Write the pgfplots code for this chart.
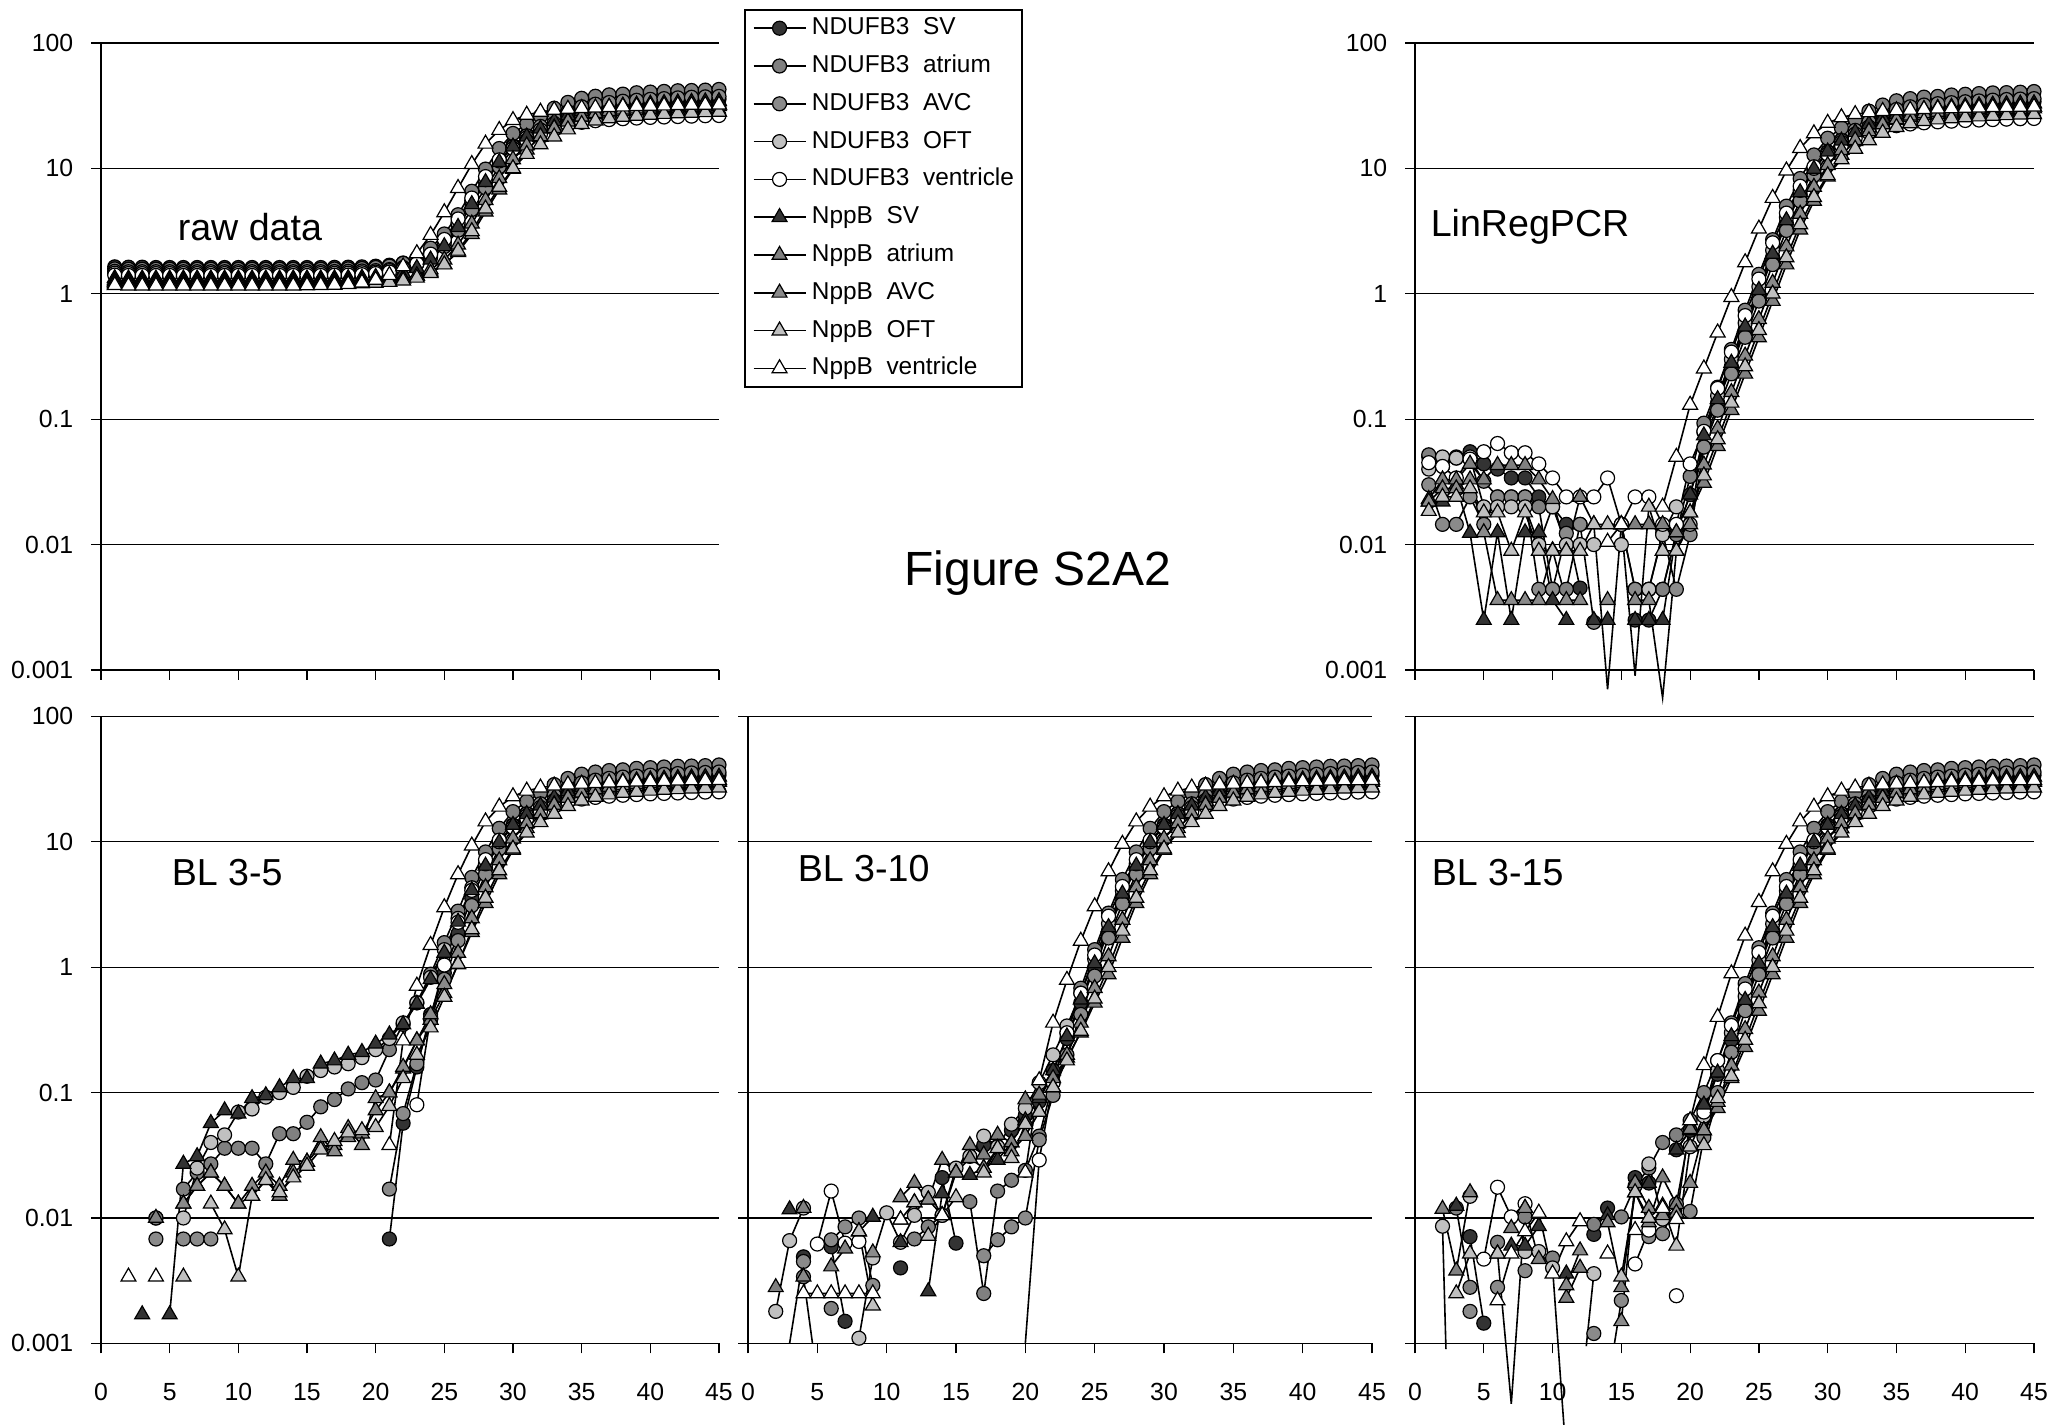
\documentclass[border=0pt]{standalone}
\usepackage{pgfplots}
\usepackage{pgfplotstable}
\pgfplotsset{compat=1.18}
\usepackage{fontspec}
\setmainfont{Liberation Sans}
\newcommand{\tickfont}{\fontsize{6.2}{7}\selectfont}
\newcommand{\labfont}{\fontsize{9.4}{11}\selectfont}
\newcommand{\legfont}{\fontsize{6.1}{7}\selectfont}
\definecolor{cDark}{HTML}{333333}
\definecolor{cMid}{HTML}{808080}
\definecolor{cMidB}{HTML}{8A8A8A}
\definecolor{cLight}{HTML}{C0C0C0}

\pgfplotstableread{
c s1 s2 s3 s4 s5 s6 s7 s8 s9 s10
1 1.64 1.58 1.51 1.46 1.41 1.33 1.28 1.25 1.21 1.17
2 1.63 1.57 1.50 1.45 1.40 1.32 1.27 1.24 1.20 1.16
3 1.63 1.57 1.50 1.45 1.40 1.32 1.27 1.24 1.20 1.16
4 1.62 1.57 1.50 1.45 1.40 1.32 1.27 1.24 1.20 1.16
5 1.62 1.57 1.50 1.45 1.40 1.32 1.27 1.24 1.20 1.16
6 1.62 1.57 1.50 1.45 1.40 1.32 1.27 1.24 1.20 1.16
7 1.62 1.57 1.50 1.45 1.40 1.32 1.27 1.24 1.20 1.16
8 1.62 1.57 1.50 1.45 1.40 1.32 1.27 1.24 1.20 1.16
9 1.62 1.57 1.50 1.45 1.40 1.32 1.27 1.24 1.20 1.16
10 1.62 1.57 1.50 1.45 1.40 1.32 1.27 1.24 1.20 1.16
11 1.62 1.57 1.50 1.45 1.40 1.32 1.27 1.24 1.20 1.16
12 1.62 1.57 1.50 1.45 1.40 1.32 1.27 1.24 1.20 1.16
13 1.62 1.57 1.50 1.45 1.40 1.32 1.27 1.24 1.20 1.16
14 1.62 1.57 1.50 1.45 1.40 1.32 1.27 1.24 1.20 1.16
15 1.62 1.57 1.50 1.45 1.40 1.32 1.27 1.24 1.20 1.165
16 1.62 1.57 1.50 1.45 1.40 1.32 1.27 1.24 1.20 1.17
17 1.625 1.576 1.504 1.455 1.406 1.325 1.272 1.243 1.202 1.178
18 1.63 1.58 1.51 1.46 1.41 1.33 1.274 1.246 1.205 1.194
19 1.64 1.59 1.52 1.47 1.42 1.34 1.278 1.251 1.209 1.227
20 1.66 1.62 1.53 1.49 1.45 1.36 1.286 1.262 1.218 1.29
21 1.69 1.66 1.56 1.53 1.49 1.39 1.30 1.28 1.24 1.41
22 1.76 1.75 1.62 1.60 1.58 1.46 1.33 1.32 1.27 1.65
23 1.88 1.93 1.73 1.75 1.74 1.60 1.39 1.40 1.34 2.10
24 2.13 2.31 1.95 2.04 2.07 1.87 1.50 1.56 1.46 2.94
25 2.62 3.00 2.38 2.59 2.71 2.39 1.72 1.87 1.71 4.46
26 3.57 4.27 3.21 3.67 3.95 3.40 2.15 2.46 2.20 6.96
27 5.27 6.57 4.70 5.52 5.80 5.17 2.98 3.62 3.15 10.8
28 7.8 9.87 7.0 8.12 8.6 7.75 4.51 5.57 4.77 15.7
29 11.3 14.4 10.3 11.45 11.7 11.2 6.77 8.34 7.1 20.2
30 15.2 19.0 14.4 14.85 14.4 14.9 9.87 11.8 10.0 24.2
31 18.5 22.6 18.2 17.55 16.7 17.9 14.1 15.2 13.0 26.7
32 21.5 26.1 21.6 20.25 18.8 20.7 17.8 18.0 15.5 28.2
33 24.7 30.2 25.0 22.85 20.7 23.8 21.1 20.9 17.9 29.2
34 27.5 33.6 28.3 25.25 22.2 26.5 23.8 23.6 20.4 29.8
35 29.8 36.2 31.0 26.95 23.3 28.5 25.6 25.8 22.5 30.2
36 31.2 37.6 32.5 27.95 24.0 29.9 26.9 27.5 24.0 30.5
37 32.1 38.6 33.5 28.65 24.5 30.9 27.8 28.6 25.0 30.8
38 32.8 39.1 34.3 29.15 24.9 31.6 28.5 29.4 25.7 31.1
39 33.4 40.1 34.9 29.55 25.2 32.2 29.1 30.0 26.2 31.3
40 33.9 40.6 35.5 29.95 25.5 32.7 29.6 30.5 26.7 31.5
41 34.3 41.1 36.0 30.25 25.7 33.1 30.1 30.9 27.1 31.7
42 34.7 41.6 36.5 30.55 25.9 33.5 30.5 31.3 27.4 31.9
43 35.0 41.8 36.9 30.85 26.1 33.8 30.8 31.6 27.7 32.0
44 35.3 42.1 37.2 31.15 26.3 34.1 31.1 31.9 28.0 32.1
45 35.6 42.6 37.5 31.45 26.4 34.3 31.3 32.2 28.2 32.2
}\rawtab

\pgfplotstableread{
c s1 s2 s3 s4 s5 s6 s7 s8 s9 s10
1 0.050 0.052 0.030 0.040 0.045 0.022 0.023 0.022 0.0185 nan
2 0.048 0.042 0.0145 0.050 0.042 0.022 0.033 0.028 0.024 nan
3 0.050 0.049 0.0145 0.049 0.034 0.030 0.033 0.028 0.024 nan
4 0.055 0.048 0.024 0.050 0.048 0.0124 0.044 0.033 0.028 nan
5 0.044 0.032 0.0145 0.020 0.055 0.0025 0.033 0.0125 0.018 nan
6 0.040 0.024 0.024 0.020 0.064 0.0125 0.043 0.0036 0.018 nan
7 0.034 0.024 0.024 0.020 0.054 0.0025 0.043 0.0036 0.0089 nan
8 0.034 0.024 0.024 0.020 0.054 0.0125 0.043 0.0036 0.018 nan
9 0.024 0.020 0.0044 0.010 0.044 0.0125 0.033 0.0036 0.0089 nan
10 0.020 0.0044 0.0044 0.020 0.034 0.0036 0.023 0.009 0.0089 nan
11 0.0145 0.0044 0.0123 0.010 0.024 0.0025 0.0089 0.0036 0.0089 nan
12 0.0045 0.0145 0.0145 0.010 0.024 nan 0.024 0.0036 0.0089 nan
13 nan 0.0024 nan 0.010 0.024 0.0025 0.0145 nan 0.0145 nan
14 nan nan nan nan 0.034 0.0025 nan 0.0036 0.0145 0.0105
15 nan 0.0145 0.0145 0.010 0.0145 nan 0.0145 nan 0.0145 0.0145
16 0.0025 0.0044 0.0044 nan 0.024 0.0025 0.0145 0.0036 nan nan
17 0.0025 0.0044 0.0044 0.0044 0.024 0.0025 0.0145 0.0036 0.020 nan
18 0.0044 0.0044 0.0123 0.012 0.0145 0.0025 0.0145 nan 0.0089 0.020
19 0.0125 0.012 0.0044 0.020 0.0145 0.0125 0.0125 0.0089 0.0089 0.050
20 0.025 0.035 0.012 0.0145 0.044 0.025 0.018 0.0145 0.018 0.13
21 0.060 0.093 0.060 0.079 0.080 0.074 0.031 0.0433 0.0355 0.253
22 0.135 0.18 0.118 0.154 0.176 0.144 0.061 0.084 0.069 0.49
23 0.263 0.36 0.23 0.30 0.343 0.281 0.118 0.164 0.135 0.94
24 0.513 0.74 0.45 0.585 0.67 0.547 0.23 0.32 0.263 1.78
25 1.0 1.43 0.875 1.14 1.31 1.07 0.448 0.626 0.513 3.3
26 1.95 2.7 1.71 2.22 2.55 2.08 0.875 1.22 1.0 5.8
27 3.65 5.0 3.2 4.07 4.4 3.85 1.71 2.38 1.95 9.6
28 6.2 8.3 5.5 6.67 7.2 6.43 3.24 4.33 3.57 14.5
29 9.7 12.8 8.8 10.0 10.3 9.9 5.5 7.1 5.9 19.0
30 13.6 17.4 12.9 13.4 13.0 13.6 8.6 10.6 8.8 23.0
31 16.9 21.0 16.7 16.1 15.3 16.6 12.8 14.0 11.8 25.5
32 19.9 24.5 20.1 18.8 17.4 19.4 16.5 16.8 14.3 27.0
33 23.1 28.6 23.5 21.4 19.3 22.5 19.8 19.7 16.7 28.0
34 25.9 32.0 26.8 23.8 20.8 25.2 22.5 22.4 19.2 28.6
35 28.2 34.6 29.5 25.5 21.9 27.2 24.3 24.6 21.3 29.0
36 29.6 36.0 31.0 26.5 22.6 28.6 25.6 26.3 22.8 29.3
37 30.5 37.0 32.0 27.2 23.1 29.6 26.5 27.4 23.8 29.6
38 31.2 37.5 32.8 27.7 23.5 30.3 27.2 28.2 24.5 29.9
39 31.8 38.5 33.4 28.1 23.8 30.9 27.8 28.8 25.0 30.1
40 32.3 39.0 34.0 28.5 24.1 31.4 28.3 29.3 25.5 30.3
41 32.7 39.5 34.5 28.8 24.3 31.8 28.8 29.7 25.9 30.5
42 33.1 40.0 35.0 29.1 24.5 32.2 29.2 30.1 26.2 30.7
43 33.4 40.2 35.4 29.4 24.7 32.5 29.5 30.4 26.5 30.8
44 33.7 40.5 35.7 29.7 24.9 32.8 29.8 30.7 26.8 30.9
45 34.0 41.0 36.0 30.0 25.0 33.0 30.0 31.0 27.0 31.0
}\lintab

\pgfplotstableread{
c s1 s2 s3 s4 s5 s6 s7 s8 s9 s10
1 nan nan nan nan nan nan nan nan nan nan
2 nan nan nan nan nan nan nan nan nan 0.0034
3 nan nan nan nan nan 0.0017 nan nan nan nan
4 0.010 0.010 0.0068 nan nan nan 0.010 nan nan 0.0034
5 nan nan nan nan nan 0.0017 nan nan nan nan
6 nan 0.017 0.0068 0.010 nan 0.027 0.013 0.013 0.0034 nan
7 nan 0.023 0.0068 0.025 nan 0.031 0.018 0.018 nan nan
8 nan 0.027 0.0068 0.040 nan 0.057 0.023 0.023 0.013 nan
9 nan 0.036 nan 0.046 nan 0.072 0.018 0.018 0.0081 nan
10 nan 0.036 nan 0.070 nan 0.068 0.013 0.013 0.0034 nan
11 nan 0.036 nan 0.074 nan 0.090 0.015 0.018 0.015 nan
12 nan 0.027 nan 0.092 nan 0.095 0.020 0.023 0.020 nan
13 nan 0.047 nan 0.100 nan 0.110 0.015 0.018 0.016 nan
14 nan 0.047 nan 0.110 nan 0.130 0.023 0.029 0.021 nan
15 nan 0.058 nan 0.135 nan 0.130 0.028 0.028 0.026 nan
16 nan 0.077 nan 0.150 nan 0.170 0.037 0.044 0.035 nan
17 nan 0.088 nan 0.160 nan 0.180 0.038 0.034 0.041 nan
18 nan 0.107 nan 0.170 nan 0.200 0.044 0.052 0.048 nan
19 nan 0.120 nan 0.190 nan 0.210 0.047 0.038 0.050 nan
20 nan 0.126 nan 0.220 nan 0.245 0.072 0.090 0.053 nan
21 0.0068 0.22 0.017 0.27 nan 0.29 0.10 0.10 0.078 0.038
22 0.057 0.35 0.068 0.36 nan 0.35 0.155 0.16 0.13 0.26
23 0.16 0.52 0.17 0.52 0.08 0.51 0.26 0.26 0.20 0.71
24 0.42 0.88 0.38 0.83 0.40 0.80 0.38 0.42 0.33 1.5
25 0.90 1.57 0.80 1.38 1.04 1.30 0.62 0.73 0.58 3.0
26 1.85 2.8 1.63 2.45 2.28 2.30 1.05 1.30 1.06 5.5
27 3.55 5.2 3.1 4.3 4.1 4.1 1.9 2.45 2.0 9.3
28 6.2 8.3 5.5 6.67 7.2 6.43 3.24 4.33 3.57 14.5
29 9.7 12.8 8.8 10.0 10.3 9.9 5.5 7.1 5.9 19.0
30 13.6 17.4 12.9 13.4 13.0 13.6 8.6 10.6 8.8 23.0
31 16.9 21.0 16.7 16.1 15.3 16.6 12.8 14.0 11.8 25.5
32 19.9 24.5 20.1 18.8 17.4 19.4 16.5 16.8 14.3 27.0
33 23.1 28.6 23.5 21.4 19.3 22.5 19.8 19.7 16.7 28.0
34 25.9 32.0 26.8 23.8 20.8 25.2 22.5 22.4 19.2 28.6
35 28.2 34.6 29.5 25.5 21.9 27.2 24.3 24.6 21.3 29.0
36 29.6 36.0 31.0 26.5 22.6 28.6 25.6 26.3 22.8 29.3
37 30.5 37.0 32.0 27.2 23.1 29.6 26.5 27.4 23.8 29.6
38 31.2 37.5 32.8 27.7 23.5 30.3 27.2 28.2 24.5 29.9
39 31.8 38.5 33.4 28.1 23.8 30.9 27.8 28.8 25.0 30.1
40 32.3 39.0 34.0 28.5 24.1 31.4 28.3 29.3 25.5 30.3
41 32.7 39.5 34.5 28.8 24.3 31.8 28.8 29.7 25.9 30.5
42 33.1 40.0 35.0 29.1 24.5 32.2 29.2 30.1 26.2 30.7
43 33.4 40.2 35.4 29.4 24.7 32.5 29.5 30.4 26.5 30.8
44 33.7 40.5 35.7 29.7 24.9 32.8 29.8 30.7 26.8 30.9
45 34.0 41.0 36.0 30.0 25.0 33.0 30.0 31.0 27.0 31.0
}\blfivetab

\pgfplotstableread{
c s1 s2 s3 s4 s5 s6 s7 s8 s9 s10
1 nan nan nan nan nan nan nan nan nan nan
2 nan nan nan 0.0018 nan nan 0.0028 nan nan nan
3 nan nan nan 0.0066 nan 0.0117 nan nan nan nan
4 0.0049 0.0034 0.0045 0.012 nan nan 0.012 0.0034 nan 0.0025
5 nan nan nan nan 0.0062 nan nan nan nan 0.0025
6 0.0059 0.0019 0.0067 nan 0.0164 nan 0.0041 nan nan 0.0025
7 0.0015 nan 0.0085 nan 0.0063 nan 0.0057 nan nan 0.0025
8 nan nan 0.010 0.0011 0.0065 0.0078 0.0078 nan 0.0078 0.0025
9 nan nan 0.0029 0.0048 nan 0.0102 nan 0.0053 0.0020 0.0025
10 nan nan nan 0.011 nan nan nan nan nan nan
11 0.0040 nan nan 0.0064 nan 0.0064 0.0146 nan 0.0097 0.0097
12 nan 0.0068 nan 0.0105 nan nan 0.019 0.0133 0.0133 nan
13 nan 0.0085 nan 0.016 nan 0.0026 0.014 0.014 0.0072 nan
14 0.021 0.0105 nan 0.0105 nan 0.0157 0.029 0.0105 0.0105 0.0105
15 0.0063 nan nan 0.025 nan nan 0.023 0.023 0.0146 nan
16 nan 0.0135 nan 0.031 nan 0.022 0.038 0.030 nan nan
17 0.038 0.0025 0.005 0.045 nan 0.025 0.032 0.025 0.023 nan
18 nan 0.0164 0.0067 0.037 nan 0.029 0.046 0.036 0.036 nan
19 0.050 0.020 0.0085 0.056 nan 0.040 0.040 0.034 0.030 nan
20 0.066 0.024 0.010 0.075 nan 0.060 0.088 0.045 0.056 0.023
21 0.085 0.045 0.042 0.12 0.029 0.09 0.096 0.07 0.07 0.125
22 0.15 0.12 0.095 0.20 0.12 0.15 0.13 0.11 0.11 0.36
23 0.27 0.30 0.20 0.34 0.30 0.28 0.19 0.20 0.18 0.79
24 0.52 0.68 0.42 0.62 0.62 0.55 0.30 0.36 0.31 1.62
25 1.0 1.38 0.85 1.16 1.25 1.07 0.52 0.68 0.56 3.05
26 1.95 2.7 1.71 2.22 2.55 2.08 0.875 1.22 1.0 5.8
27 3.65 5.0 3.2 4.07 4.4 3.85 1.71 2.38 1.95 9.6
28 6.2 8.3 5.5 6.67 7.2 6.43 3.24 4.33 3.57 14.5
29 9.7 12.8 8.8 10.0 10.3 9.9 5.5 7.1 5.9 19.0
30 13.6 17.4 12.9 13.4 13.0 13.6 8.6 10.6 8.8 23.0
31 16.9 21.0 16.7 16.1 15.3 16.6 12.8 14.0 11.8 25.5
32 19.9 24.5 20.1 18.8 17.4 19.4 16.5 16.8 14.3 27.0
33 23.1 28.6 23.5 21.4 19.3 22.5 19.8 19.7 16.7 28.0
34 25.9 32.0 26.8 23.8 20.8 25.2 22.5 22.4 19.2 28.6
35 28.2 34.6 29.5 25.5 21.9 27.2 24.3 24.6 21.3 29.0
36 29.6 36.0 31.0 26.5 22.6 28.6 25.6 26.3 22.8 29.3
37 30.5 37.0 32.0 27.2 23.1 29.6 26.5 27.4 23.8 29.6
38 31.2 37.5 32.8 27.7 23.5 30.3 27.2 28.2 24.5 29.9
39 31.8 38.5 33.4 28.1 23.8 30.9 27.8 28.8 25.0 30.1
40 32.3 39.0 34.0 28.5 24.1 31.4 28.3 29.3 25.5 30.3
41 32.7 39.5 34.5 28.8 24.3 31.8 28.8 29.7 25.9 30.5
42 33.1 40.0 35.0 29.1 24.5 32.2 29.2 30.1 26.2 30.7
43 33.4 40.2 35.4 29.4 24.7 32.5 29.5 30.4 26.5 30.8
44 33.7 40.5 35.7 29.7 24.9 32.8 29.8 30.7 26.8 30.9
45 34.0 41.0 36.0 30.0 25.0 33.0 30.0 31.0 27.0 31.0
}\bltentab

\pgfplotstableread{
c s1 s2 s3 s4 s5 s6 s7 s8 s9 s10
1 nan nan nan nan nan nan nan nan nan nan
2 nan nan nan 0.0086 nan nan 0.0118 nan nan nan
3 nan 0.012 nan nan nan 0.0125 0.0038 nan 0.0025 nan
4 0.0071 0.0028 0.0018 0.0149 nan nan 0.016 nan 0.0052 nan
5 0.00145 nan nan nan 0.0047 nan nan nan nan nan
6 nan 0.0064 0.0028 nan 0.0176 nan nan 0.0052 0.0052 0.0022
7 nan nan nan nan 0.0102 0.006 0.0083 nan nan 0.0052
8 nan 0.0102 0.0038 0.0054 0.013 0.006 0.012 0.012 nan 0.0078
9 nan nan nan 0.0054 nan 0.0086 0.0047 nan nan 0.011
10 nan 0.0048 nan 0.004 nan nan nan nan nan 0.0036
11 nan nan nan nan nan 0.0036 0.0023 0.0029 nan 0.0065
12 nan nan nan nan nan nan 0.004 0.0055 nan 0.0094
13 0.0074 0.0089 0.0012 0.0036 nan nan nan nan nan nan
14 0.012 nan nan nan nan 0.0105 0.0092 nan nan 0.0052
15 nan 0.0102 0.0022 nan nan nan 0.0028 0.0015 0.0034 nan
16 0.021 0.018 nan nan 0.0043 nan 0.016 0.019 0.016 0.008
17 0.019 0.025 0.0071 0.027 0.008 0.019 0.0092 0.012 0.010 nan
18 nan 0.040 0.0075 0.0098 nan nan 0.021 0.0105 0.0125 0.012
19 0.035 0.046 0.0129 nan 0.0024 0.035 0.0129 0.011 0.006 0.0098
20 0.050 0.060 0.0113 0.037 nan 0.050 0.051 0.019 0.037 0.060
21 0.075 0.10 0.044 0.065 0.07 0.08 0.05 0.05 0.038 0.165
22 0.14 0.18 0.10 0.15 0.18 0.144 0.075 0.084 0.09 0.40
23 0.263 0.36 0.21 0.30 0.343 0.281 0.13 0.164 0.135 0.89
24 0.513 0.74 0.45 0.585 0.67 0.547 0.23 0.32 0.263 1.78
25 1.0 1.43 0.875 1.14 1.31 1.07 0.448 0.626 0.513 3.3
26 1.95 2.7 1.71 2.22 2.55 2.08 0.875 1.22 1.0 5.8
27 3.65 5.0 3.2 4.07 4.4 3.85 1.71 2.38 1.95 9.6
28 6.2 8.3 5.5 6.67 7.2 6.43 3.24 4.33 3.57 14.5
29 9.7 12.8 8.8 10.0 10.3 9.9 5.5 7.1 5.9 19.0
30 13.6 17.4 12.9 13.4 13.0 13.6 8.6 10.6 8.8 23.0
31 16.9 21.0 16.7 16.1 15.3 16.6 12.8 14.0 11.8 25.5
32 19.9 24.5 20.1 18.8 17.4 19.4 16.5 16.8 14.3 27.0
33 23.1 28.6 23.5 21.4 19.3 22.5 19.8 19.7 16.7 28.0
34 25.9 32.0 26.8 23.8 20.8 25.2 22.5 22.4 19.2 28.6
35 28.2 34.6 29.5 25.5 21.9 27.2 24.3 24.6 21.3 29.0
36 29.6 36.0 31.0 26.5 22.6 28.6 25.6 26.3 22.8 29.3
37 30.5 37.0 32.0 27.2 23.1 29.6 26.5 27.4 23.8 29.6
38 31.2 37.5 32.8 27.7 23.5 30.3 27.2 28.2 24.5 29.9
39 31.8 38.5 33.4 28.1 23.8 30.9 27.8 28.8 25.0 30.1
40 32.3 39.0 34.0 28.5 24.1 31.4 28.3 29.3 25.5 30.3
41 32.7 39.5 34.5 28.8 24.3 31.8 28.8 29.7 25.9 30.5
42 33.1 40.0 35.0 29.1 24.5 32.2 29.2 30.1 26.2 30.7
43 33.4 40.2 35.4 29.4 24.7 32.5 29.5 30.4 26.5 30.8
44 33.7 40.5 35.7 29.7 24.9 32.8 29.8 30.7 26.8 30.9
45 34.0 41.0 36.0 30.0 25.0 33.0 30.0 31.0 27.0 31.0
}\blfifteentab

\pgfplotsset{
  rsCirc/.style={draw=black, line width=0.4pt, mark=*, mark size=1.75pt,
     mark options={solid, draw=black, line width=0.3pt, fill=#1}},
  rsTri/.style={draw=black, line width=0.4pt, mark=triangle*, mark size=2.15pt,
     mark options={solid, draw=black, line width=0.3pt, fill=#1}},
  serA/.style={rsCirc=cDark}, serB/.style={rsCirc=cMid}, serC/.style={rsCirc=cMidB},
  serD/.style={rsCirc=cLight}, serE/.style={rsCirc=white},
  serF/.style={rsTri=cDark}, serG/.style={rsTri=cMid}, serH/.style={rsTri=cMidB},
  serI/.style={rsTri=cLight}, serJ/.style={rsTri=white},
  rsDip/.style={draw=black, line width=0.4pt, mark=none, forget plot},
}

\newcommand{\tenplots}[1]{%
  \addplot[serA] table[x=c,y=s1]{#1};
  \addplot[serB] table[x=c,y=s2]{#1};
  \addplot[serC] table[x=c,y=s3]{#1};
  \addplot[serD] table[x=c,y=s4]{#1};
  \addplot[serE] table[x=c,y=s5]{#1};
  \addplot[serF] table[x=c,y=s6]{#1};
  \addplot[serG] table[x=c,y=s7]{#1};
  \addplot[serH] table[x=c,y=s8]{#1};
  \addplot[serI] table[x=c,y=s9]{#1};
  \addplot[serJ] table[x=c,y=s10]{#1};
}

\begin{document}
\begin{tikzpicture}
\useasboundingbox (0pt,0pt) rectangle (514.5pt,356.25pt);

% ---------- raw data ----------
\begin{axis}[
    scale only axis, anchor=south west, at={(25.25pt,188.75pt)}, width=154.5pt, height=156.75pt,
    xmin=0, xmax=45, ymin=0.001, ymax=100, ymode=log,
    axis lines=left, axis line style={-, draw=black, line width=0.3pt},
    xtick={0,5,...,45}, ytick={0.001,0.01,0.1,1,10,100},
    yminorticks=false,
    ymajorgrids, grid style={draw=black, line width=0.3pt},
    tick align=outside, major tick length=2.5pt,
    tick style={draw=black, line width=0.3pt},
    clip=false, unbounded coords=jump,
    ticklabel style={font=\tickfont},
    yticklabel style={xshift=-0.9pt},
    yticklabels={0.001,0.01,0.1,1,10,100}, xticklabels={},
    legend cell align=left,
    legend style={at={(1.0404,1.0542)}, anchor=north west, draw=black, line width=0.4pt,
      fill=white, font=\legfont, inner xsep=2pt, inner ysep=1.8pt, row sep=3.85pt,
      nodes={inner sep=0pt, text height=4.4pt, text depth=1.2pt}},
    legend image code/.code={%
      \draw[mark repeat=2,mark phase=2,#1] plot coordinates {(0pt,0pt) (6.5pt,0pt) (13pt,0pt)};
      \path (14.4pt,0pt);},
]
\addplot[serA] table[x=c,y=s1]{\rawtab}; \addlegendentry{NDUFB3~~SV}
\addplot[serB] table[x=c,y=s2]{\rawtab}; \addlegendentry{NDUFB3~~atrium}
\addplot[serC] table[x=c,y=s3]{\rawtab}; \addlegendentry{NDUFB3~~AVC}
\addplot[serD] table[x=c,y=s4]{\rawtab}; \addlegendentry{NDUFB3~~OFT}
\addplot[serE] table[x=c,y=s5]{\rawtab}; \addlegendentry{NDUFB3~~ventricle}
\addplot[serF] table[x=c,y=s6]{\rawtab}; \addlegendentry{NppB~~SV}
\addplot[serG] table[x=c,y=s7]{\rawtab}; \addlegendentry{NppB~~atrium}
\addplot[serH] table[x=c,y=s8]{\rawtab}; \addlegendentry{NppB~~AVC}
\addplot[serI] table[x=c,y=s9]{\rawtab}; \addlegendentry{NppB~~OFT}
\addplot[serJ] table[x=c,y=s10]{\rawtab}; \addlegendentry{NppB~~ventricle}
\end{axis}

% ---------- LinRegPCR ----------
\begin{axis}[
    scale only axis, anchor=south west, at={(353.75pt,188.75pt)}, width=154.75pt, height=156.75pt,
    xmin=0, xmax=45, ymin=0.001, ymax=100, ymode=log,
    axis lines=left, axis line style={-, draw=black, line width=0.3pt},
    xtick={0,5,...,45}, ytick={0.001,0.01,0.1,1,10,100},
    yminorticks=false,
    ymajorgrids, grid style={draw=black, line width=0.3pt},
    tick align=outside, major tick length=2.5pt,
    tick style={draw=black, line width=0.3pt},
    clip=false, unbounded coords=jump,
    ticklabel style={font=\tickfont},
    yticklabel style={xshift=-0.9pt},
    yticklabels={0.001,0.01,0.1,1,10,100}, xticklabels={},
]
\addplot[rsDip] coordinates {(13,0.0145) (14,0.0007) (15,0.0145)};
\addplot[rsDip] coordinates {(17,0.0036) (18,0.0006) (19,0.0089)};
\addplot[rsDip] coordinates {(15,0.0145) (16,0.0009) (17,0.020)};
\tenplots{\lintab}
\end{axis}

% ---------- BL 3-5 ----------
\begin{axis}[
    scale only axis, anchor=south west, at={(25.25pt,20.4pt)}, width=154.5pt, height=156.75pt,
    xmin=0, xmax=45, ymin=0.001, ymax=100, ymode=log,
    axis lines=left, axis line style={-, draw=black, line width=0.3pt},
    xtick={0,5,...,45}, ytick={0.001,0.01,0.1,1,10,100},
    yminorticks=false,
    ymajorgrids, grid style={draw=black, line width=0.3pt},
    tick align=outside, major tick length=2.5pt,
    tick style={draw=black, line width=0.3pt},
    clip=false, unbounded coords=jump,
    ticklabel style={font=\tickfont},
    yticklabel style={xshift=-0.9pt}, xticklabel style={yshift=-3.9pt},
    yticklabels={0.001,0.01,0.1,1,10,100},
    xticklabels={0,5,10,15,20,25,30,35,40,45},
]
\tenplots{\blfivetab}
\end{axis}

% ---------- BL 3-10 ----------
\begin{axis}[
    scale only axis, anchor=south west, at={(187pt,20.4pt)}, width=156pt, height=156.75pt,
    xmin=0, xmax=45, ymin=0.001, ymax=100, ymode=log,
    axis lines=left, axis line style={-, draw=black, line width=0.3pt},
    xtick={0,5,...,45}, ytick={0.001,0.01,0.1,1,10,100},
    yminorticks=false,
    ymajorgrids, grid style={draw=black, line width=0.3pt},
    tick align=outside, major tick length=2.5pt,
    tick style={draw=black, line width=0.3pt},
    clip=false, unbounded coords=jump,
    ticklabel style={font=\tickfont},
    xticklabel style={yshift=-3.9pt},
    yticklabels={}, xticklabels={0,5,10,15,20,25,30,35,40,45},
]
\addplot[rsDip] coordinates {(3,0.001) (4,0.0049)};
\addplot[rsDip] coordinates {(4,0.0034) (4.65,0.001)};
\addplot[rsDip] coordinates {(20,0.001) (21,0.029)};
\tenplots{\bltentab}
\end{axis}

% ---------- BL 3-15 ----------
\begin{axis}[
    scale only axis, anchor=south west, at={(353.75pt,20.4pt)}, width=154.75pt, height=156.75pt,
    xmin=0, xmax=45, ymin=0.001, ymax=100, ymode=log,
    axis lines=left, axis line style={-, draw=black, line width=0.3pt},
    xtick={0,5,...,45}, ytick={0.001,0.01,0.1,1,10,100},
    yminorticks=false,
    ymajorgrids, grid style={draw=black, line width=0.3pt},
    tick align=outside, major tick length=2.5pt,
    tick style={draw=black, line width=0.3pt},
    clip=false, unbounded coords=jump,
    ticklabel style={font=\tickfont},
    xticklabel style={yshift=-3.9pt},
    yticklabels={}, xticklabels={0,5,10,15,20,25,30,35,40,45},
]
\addplot[rsDip] coordinates {(2,0.0086) (2.25,0.0009)};
\addplot[rsDip] coordinates {(6,0.0052) (7,0.00033) (8,0.012)};
\addplot[rsDip] coordinates {(10,0.004) (11,0.00012)};
\addplot[rsDip] coordinates {(12.45,0.00095) (13,0.0036)};
\addplot[rsDip] coordinates {(14.5,0.001) (15,0.0022)};
\tenplots{\blfifteentab}
\end{axis}

\node[anchor=west, inner sep=0pt, font=\labfont] at (44.25pt,299.5pt) {raw data};
\node[anchor=west, inner sep=0pt, font=\labfont] at (357.5pt,299.5pt) {LinRegPCR};
\node[anchor=west, inner sep=0pt, font=\labfont] at (42.75pt,138pt) {BL 3-5};
\node[anchor=west, inner sep=0pt, font=\labfont] at (199.25pt,139pt) {BL 3-10};
\node[anchor=west, inner sep=0pt, font=\labfont] at (357.75pt,138pt) {BL 3-15};
\node[inner sep=0pt, font=\fontsize{12}{14}\selectfont] at (259.5pt,212.9pt) {Figure S2A2};
\end{tikzpicture}
\end{document}
